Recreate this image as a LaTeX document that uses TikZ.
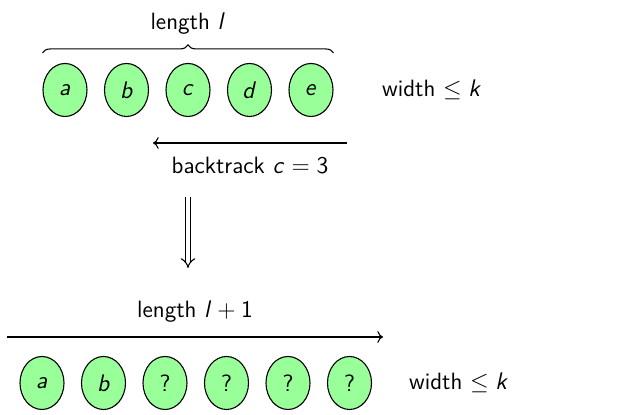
\documentclass[tikz,border=0pt]{standalone}
\usetikzlibrary{positioning,decorations.pathreplacing,shapes.geometric,arrows.meta}

% sans serif text and math, slides style
\renewcommand{\familydefault}{\sfdefault}
\SetSymbolFont{operators}{normal}{OT1}{cmss}{m}{n}
\SetSymbolFont{letters}{normal}{OT1}{cmss}{m}{sl}

\begin{document}
\fontsize{11.8}{14}\selectfont
\begin{tikzpicture}[x=0.5pt, y=-0.5pt, node distance=30.75pt, line width=0.55pt,
    cell/.style={draw, ellipse, fill=green!40, minimum width=22pt, minimum height=26.5pt, inner sep=0pt}]
    \useasboundingbox (0,0) rectangle (644,415);

    % current path
    \node[cell] (a) at (65,90) {$a$};
    \node[cell, right of=a] (b) {$b$};
    \node[cell, right of=b] (c) {$c$};
    \node[cell, right of=c] (d) {$d$};
    \node[cell, right of=d] (e) {$e$};
    \node (w1) at (432,90) {width $\leq k$};

    \draw[decorate, decoration={brace, amplitude=4pt}]
        ([yshift=5pt]a.north -| a.west) -- ([yshift=5pt]e.north -| e.east)
        node[midway, above=5pt] (len) {length $l$};

    \coordinate (bs) at (347,143);
    \coordinate (be) at (153,143);
    \draw[->] (bs) -- node[below=3pt] (bt) {backtrack $c = 3$} (be);

    \coordinate (dtop) at (188,197);
    \coordinate (dbot) at (188,268);
    \draw[double, double distance=2pt, -{Implies}] (dtop) -- (dbot);

    % longer path
    \coordinate (ls) at (7,337);
    \coordinate (le) at (383,337);
    \draw[->] (ls) -- node[above=3pt] (len2) {length $l+1$} (le);

    \node[cell] (a2) at (42,383) {$a$};
    \node[cell, right of=a2] (b2) {$b$};
    \node[cell, right of=b2] (q1) {?};
    \node[cell, right of=q1] (q2) {?};
    \node[cell, right of=q2] (q3) {?};
    \node[cell, right of=q3] (q4) {?};
    \node (w2) at (459,383) {width $\leq k$};
\end{tikzpicture}
\end{document}
